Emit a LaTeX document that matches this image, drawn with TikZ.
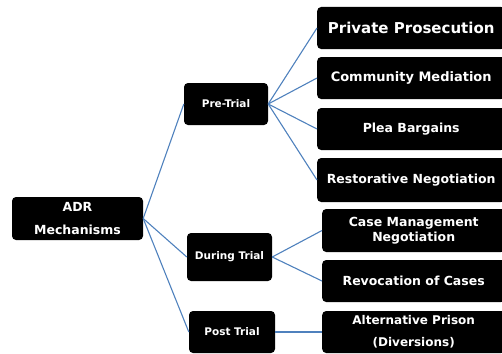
\documentclass[tikz,border=0pt]{standalone}
\usepackage{fontspec}
\setmainfont{DejaVu Sans}
\usepackage{tikz}
\definecolor{linkblue}{RGB}{79,129,189}
\tikzset{
	frame/.style={
		rectangle, fill=black, text=white,
		font=\bfseries, align=center, inner sep=0pt,
		rounded corners=4pt,
	},
	stage/.style={
		frame, minimum width=84pt, minimum height=42pt,
		font=\fontsize{10.5}{13}\selectfont\bfseries,
	},
	item/.style={
		frame, anchor=west, minimum width=188pt, minimum height=42pt,
		font=\fontsize{12.5}{15}\selectfont\bfseries,
	},
	line/.style={
		draw=linkblue, line width=1.1pt,
	}
}
\begin{document}
\begin{tikzpicture}[x=1pt,y=-1pt]
		\useasboundingbox (0,0) rectangle (502,353);
		\clip (0,0) rectangle (502,353);
		
		\node [frame, minimum width=131pt, minimum height=43pt, font=\fontsize{12.5}{23}\selectfont\bfseries] (adr) at (77.5,218.5) {ADR\\Mechanisms};
		
		\node [stage] (pre) at (226,104) {Pre-Trial};
		\node [stage, minimum width=85pt, minimum height=48pt] (dur) at (229.5,257) {During Trial};
		\node [stage, minimum width=86pt] (post) at (232,332) {Post Trial};
		
		\node [item, font=\fontsize{15}{18}\selectfont\bfseries] (priv) at (317,28) {Private Prosecution};
		\node [item, font=\fontsize{13}{15}\selectfont\bfseries] (comm) at (317,78) {Community Mediation};
		\node [item] (plea) at (317,129) {Plea Bargains};
		\node [item, minimum height=44pt] (rest) at (317,180) {Restorative Negotiation};
		\node [item, minimum width=183pt, minimum height=43pt] (case) at (322,230.5) {Case Management\\Negotiation};
		\node [item, minimum width=183pt] (revo) at (322,281) {Revocation of Cases};
		\node [item, minimum width=183pt, font=\fontsize{12}{22}\selectfont\bfseries] (alt) at (322,332) {Alternative Prison\\(Diversions)};
		
		% root to stages
		\path [line] (adr.east) -- (pre.west);
		\path [line] (adr.east) -- (dur.west);
		\path [line] (adr.east) -- (post.west);
		
		% stages to mechanisms
		\foreach \n in {priv,comm,plea,rest}
			\path [line] (pre.east) -- (\n.west);
		\foreach \n in {case,revo}
			\path [line] (dur.east) -- (\n.west);
		\path [line] (post.east) -- (alt.west);
\end{tikzpicture}
\end{document}
